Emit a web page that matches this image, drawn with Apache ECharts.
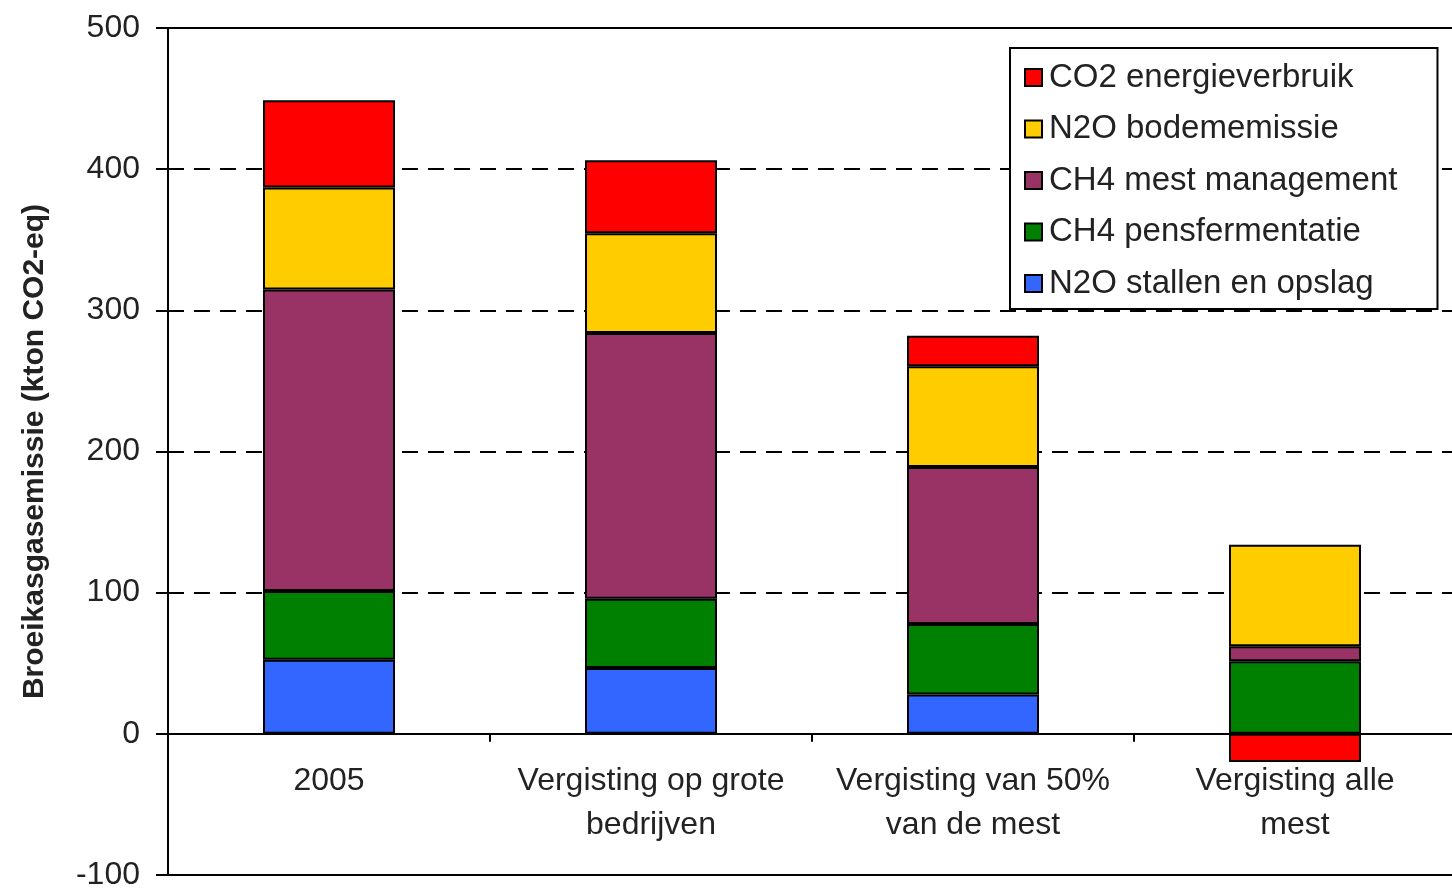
<!DOCTYPE html>
<html>
<head>
<meta charset="utf-8">
<script src="https://cdn.jsdelivr.net/npm/echarts@6/dist/echarts.min.js"></script>
<style>
  html, body { margin: 0; padding: 0; background: #fff; }
  #main { width: 1452px; height: 889px; }
</style>
</head>
<body>
<div id="main"></div>
<script>
// scenarios on the x axis
const categories = ["2005", "Vergisting op grote\nbedrijven", "Vergisting van 50%\nvan de mest", "Vergisting alle\nmest"];

// emissions per source, kton CO2-eq (stacked bottom -> top)
const n2oStallen = [52.4, 46.6, 27.9, 0];
const ch4Pens = [48.8, 49.1, 49.9, 51.4];
const ch4Mest = [213.6, 188.3, 111.2, 10.6];
const n2oBodem = [72.2, 70.6, 71.4, 72];
const co2Energie = [61.8, 51.7, 21.6, -20];

const yTicks = { min: -100, max: 500, interval: 100 };

const font = "Liberation Sans, Arial, sans-serif";
const border = { borderColor: "#000", borderWidth: 2 };

function bar(name, data, color) {
  return {
    name: name,
    type: "bar",
    stack: "total",
    barWidth: 132,
    data: data,
    itemStyle: Object.assign({ color: color }, border)
  };
}

const myChart = echarts.init(document.getElementById("main"));
myChart.setOption({
  animation: false,
  backgroundColor: "#fff",
  grid: {
    left: 168,
    top: 28,
    right: -4,
    bottom: 14,
    outerBoundsMode: "none",
    show: true,
    borderColor: "#000",
    borderWidth: 2
  },
  legend: {
    orient: "vertical",
    left: 1010,
    top: 48,
    padding: [13, 40, 9, 14],
    itemGap: 18.5,
    itemWidth: 17,
    itemHeight: 17,
    icon: "rect",
    borderColor: "#000",
    borderWidth: 2,
    backgroundColor: "#fff",
    textStyle: { fontFamily: font, fontSize: 33, color: "#222", padding: [0, 0, 0, 2] },
    data: ["CO2 energieverbruik", "N2O bodememissie", "CH4 mest management", "CH4 pensfermentatie", "N2O stallen en opslag"]
  },
  xAxis: {
    type: "category",
    data: categories,
    axisLine: { show: true, onZero: true, lineStyle: { color: "#000", width: 2 } },
    axisTick: { show: true, length: 8, lineStyle: { color: "#000", width: 2 } },
    axisLabel: {
      show: true,
      interval: 0,
      margin: -116, // labels sit under the zero line, not the grid bottom
      fontFamily: font,
      fontSize: 32,
      lineHeight: 44,
      color: "#222"
    }
  },
  yAxis: {
    type: "value",
    min: yTicks.min,
    max: yTicks.max,
    interval: yTicks.interval,
    name: "Broeikasgasemissie (kton CO2-eq)",
    nameLocation: "middle",
    nameRotate: 90,
    nameGap: 118,
    nameTextStyle: { fontFamily: font, fontSize: 30, fontWeight: "bold", color: "#222" },
    axisLine: { show: true, lineStyle: { color: "#000", width: 2 } },
    axisTick: { show: true, length: 12, lineStyle: { color: "#000", width: 2 } },
    axisLabel: { margin: 28, fontFamily: font, fontSize: 32, color: "#222" },
    splitLine: { lineStyle: { color: "#000", width: 2, type: [16, 10] } }
  },
  series: [
    bar("N2O stallen en opslag", n2oStallen, "#3366FF"),
    bar("CH4 pensfermentatie", ch4Pens, "#008000"),
    bar("CH4 mest management", ch4Mest, "#993366"),
    bar("N2O bodememissie", n2oBodem, "#FFCC00"),
    bar("CO2 energieverbruik", co2Energie, "#FF0000")
  ]
});
</script>
</body>
</html>
